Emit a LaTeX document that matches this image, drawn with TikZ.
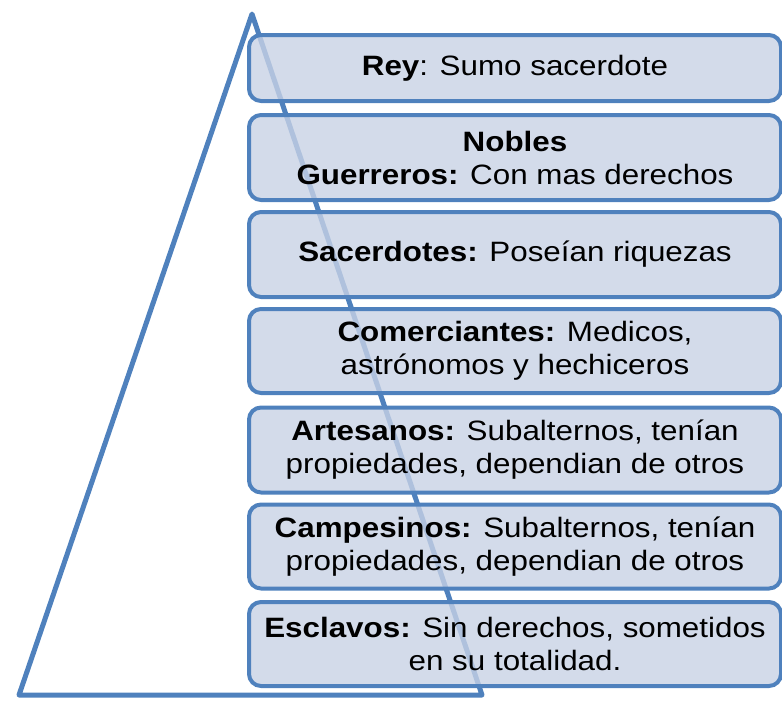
\documentclass[tikz,border=0pt]{standalone}
\usepackage{fontspec}
\setmainfont{Liberation Sans}[FakeStretch=1.12]
\definecolor{edgeblue}{RGB}{79,129,189}
\definecolor{boxfill}{RGB}{200,210,229}
\begin{document}
\begin{tikzpicture}[x=1pt,y=-1pt,
  tier/.style={draw=edgeblue, line width=4pt, rounded corners=12pt,
    fill=boxfill, fill opacity=0.8, text opacity=1, draw opacity=1,
    minimum width=532pt, inner sep=0pt, align=center,
    font=\fontsize{28}{33}\selectfont},
  pyr/.style={draw=edgeblue, line width=5pt, line join=round}]
\useasboundingbox (0,0) rectangle (782,702);
\coordinate (apex) at (252,14);
\coordinate (bl) at (19,695);
\coordinate (br) at (482,695);
\draw[pyr] (apex) -- (bl) -- (br) -- cycle;
\node[tier, minimum height=66pt] (t1) at (515,68) {\textbf{Rey}: Sumo sacerdote};
\node[tier, minimum height=85pt] (t2) at (515,157.5) {\textbf{Nobles}\\\textbf{Guerreros:} Con mas derechos};
\node[tier, minimum height=85pt] (t3) at (515,254.5) {\textbf{Sacerdotes:} Poseían riquezas};
\node[tier, minimum height=84pt] (t4) at (515,351) {\textbf{Comerciantes:} Medicos,\\astrónomos y hechiceros};
\node[tier, minimum height=85pt] (t5) at (515,450) {\textbf{Artesanos:} Subalternos, tenían\\propiedades, dependian de otros};
\node[tier, minimum height=84pt] (t6) at (515,546.5) {\textbf{Campesinos:} Subalternos, tenían\\propiedades, dependian de otros};
\node[tier, minimum height=84pt] (t7) at (515,644) {\textbf{Esclavos:} Sin derechos, sometidos\\en su totalidad.};
\end{tikzpicture}
\end{document}
